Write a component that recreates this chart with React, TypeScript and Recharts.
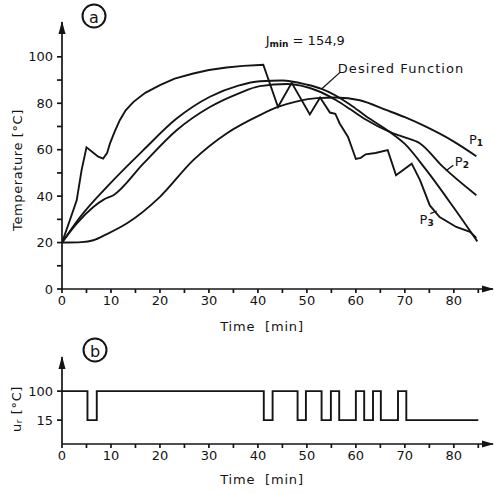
import { LineChart, Line, XAxis, YAxis, ReferenceLine, ReferenceDot } from "recharts";

const FONT = '"DejaVu Sans", sans-serif';
const INK = "#141414";

// panel (a): temperature curves
const desiredTime = [0, 3.7, 9.8, 16.6, 23.4, 30.2, 36, 40.4, 45, 50, 53, 58.8, 62, 66.9, 70, 74.4, 79.9, 84.8];
const desiredTemp = [20, 31, 45.4, 59.8, 73.4, 82.8, 87.6, 89.5, 89.8, 88, 86.2, 79.5, 74.5, 67.7, 62.5, 51.2, 35.3, 20.5];

const p1Time = [0, 4, 6.4, 9, 13.2, 20, 26.8, 33.6, 40.4, 44.1, 48, 52, 56, 60.8, 66.3, 70, 74.4, 80, 84.6];
const p1Temp = [20, 20.2, 21, 23.5, 28.2, 39.7, 55.5, 67, 74.9, 78.4, 80.8, 82.2, 82.5, 81.3, 77, 74, 69.8, 63.5, 57.2];

const p2Time = [0, 3, 6.4, 8.5, 10.5, 16.6, 23.4, 30.2, 36, 40.4, 46, 52, 56, 58.8, 62, 66.9, 69.7, 73.1, 77.8, 84.6];
const p2Temp = [20, 28.2, 35.3, 38.5, 40.4, 54, 68.4, 78.4, 84.2, 87.4, 88.3, 85.5, 81.3, 77.5, 73, 67.7, 65.5, 62.7, 52.6, 40.4];

const p3Time = [0, 1.6, 3, 4, 5, 6.2, 7.4, 8.4, 9.2, 9.8, 10.8, 11.8, 13, 14.6, 17, 20, 23, 26.8, 30, 33.6, 37, 40.4, 41.1, 44.1, 46.9, 50.6, 52.7, 54.7, 55.8, 56.7, 58.4, 60, 61, 62, 64, 66.5, 68.2, 71.4, 73.1, 75.1, 77.1, 80.5, 83.3, 84.6];
const p3Temp = [20, 29.6, 38.2, 51.2, 61, 59, 57, 56.2, 58.5, 62.7, 68, 72.7, 77, 80.6, 84.5, 87.8, 90.6, 92.8, 94.3, 95.4, 96.1, 96.5, 96.6, 78.4, 88.8, 75.2, 82.5, 76, 75.5, 71.3, 65.5, 56, 56.5, 58, 58.6, 59.8, 49, 54, 46.9, 36, 31, 26.7, 24.6, 22];

// panel (b): control signal u_r
const uTime = [0, 5.2, 7.1, 41.2, 43, 48.1, 49.8, 53, 54.9, 56.6, 60, 61.7, 63.5, 65.1, 68.6, 70.3, 85];
const uLevel = [100, 15, 100, 15, 100, 15, 100, 15, 100, 15, 100, 15, 100, 15, 100, 15, 15];

const timeTicks = [0, 5, 10, 15, 20, 25, 30, 35, 40, 45, 50, 55, 60, 65, 70, 75, 80, 85];
const tempTicks = [0, 10, 20, 30, 40, 50, 60, 70, 80, 90, 100];
const uTicks = [15, 100];

const toRows = (ts: number[], vs: number[]) => ts.map((t, i) => ({ t, v: vs[i] }));
const desiredData = toRows(desiredTime, desiredTemp);
const p1Data = toRows(p1Time, p1Temp);
const p2Data = toRows(p2Time, p2Temp);
const p3Data = toRows(p3Time, p3Temp);
const uData = toRows(uTime, uLevel);

const W = 494;
const LEFT = 62;
const tickStyle = { fill: INK, fontSize: 13, fontFamily: FONT };
const axisStyle = { stroke: INK, strokeWidth: 1.7 };
const lineProps = { stroke: INK, strokeWidth: 1.9, dot: false, isAnimationActive: false };
const tenths = (v: number) => (v % 10 === 0 ? String(v) : "");
const twenties = (v: number) => (v % 20 === 0 ? String(v) : "");

const timeLabel = (dy: number) => ({ viewBox }: any) => (
  <text x={viewBox.x + 200} y={viewBox.y + dy} textAnchor="middle" fill={INK} fontSize={13} fontFamily={FONT} letterSpacing={0.8}>
    Time&#160;&#160;[min]
  </text>
);

const sub = (main: string, s: string, rest = "") => ({ viewBox }: any) => (
  <text x={viewBox.x} y={viewBox.y} dominantBaseline="central" fill={INK} fontSize={13} fontFamily={FONT}>
    {main}
    <tspan fontSize={9} dy={4} fontWeight="bold">{s}</tspan>
    {rest && <tspan dy={-4}>{rest}</tspan>}
  </text>
);

const plain = (s: string) => ({ viewBox }: any) => (
  <text x={viewBox.x} y={viewBox.y} dominantBaseline="central" fill={INK} fontSize={13} fontFamily={FONT} letterSpacing={1.1}>
    {s}
  </text>
);

function Arrow({ x, y, dir }: { x: number; y: number; dir: "up" | "right" }) {
  const pts = dir === "up" ? `${x},${y} ${x - 3.5},${y + 13} ${x + 3.5},${y + 13}` : `${x},${y} ${x - 12},${y - 3.5} ${x - 12},${y + 3.5}`;
  return <polygon points={pts} fill={INK} />;
}

function Badge({ x, y, ch }: { x: number; y: number; ch: string }) {
  return (
    <g>
      <circle cx={x} cy={y} r={11.5} fill="none" stroke={INK} strokeWidth={2} />
      <text x={x} y={y + 1} textAnchor="middle" dominantBaseline="central" fill={INK} fontSize={16} fontFamily={FONT}>
        {ch}
      </text>
    </g>
  );
}

export default function App() {
  return (
    <div style={{ position: "absolute", left: 0, top: 0, width: W, height: 493, background: "#fff" }}>
      <div style={{ position: "absolute", left: 0, top: 0 }}>
        <LineChart width={W} height={340} margin={{ top: 22, right: 1, bottom: 0, left: 0 }}>
          <XAxis type="number" dataKey="t" domain={[0, 88]} ticks={timeTicks} interval={0} tickFormatter={tenths}
            tickSize={4} tickMargin={3} height={51} axisLine={axisStyle} tickLine={axisStyle} tick={tickStyle}
            allowDataOverflow label={{ content: timeLabel(42) }} />
          <YAxis type="number" dataKey="v" domain={[0, 115]} ticks={tempTicks} interval={0} tickFormatter={twenties}
            tickSize={5} tickMargin={4} width={LEFT} axisLine={axisStyle} tickLine={axisStyle} tick={tickStyle}
            allowDataOverflow
            label={{
              content: ({ viewBox }: any) => (
                <text x={17} y={viewBox.y + 148} transform={`rotate(-90 17 ${viewBox.y + 148})`} textAnchor="middle"
                  dominantBaseline="central" fill={INK} fontSize={13} fontFamily={FONT} letterSpacing={0.6}>
                  Temperature [°C]
                </text>
              ),
            }} />
          <Line data={desiredData} dataKey="v" type="monotone" {...lineProps} />
          <Line data={p1Data} dataKey="v" type="monotone" {...lineProps} />
          <Line data={p2Data} dataKey="v" type="monotone" {...lineProps} />
          <Line data={p3Data} dataKey="v" type="linear" {...lineProps} />
          <ReferenceLine segment={[{ x: 56.7, y: 93.2 }, { x: 53, y: 86.1 }]} stroke={INK} strokeWidth={1.3} />
          <ReferenceLine segment={[{ x: 78.4, y: 50.9 }, { x: 79.9, y: 53.3 }]} stroke={INK} strokeWidth={1.3} />
          <ReferenceLine segment={[{ x: 75.2, y: 32.5 }, { x: 76.5, y: 33.6 }]} stroke={INK} strokeWidth={1.3} />
          <ReferenceDot x={41.6} y={107.2} r={0} stroke="none" label={{ content: sub("J", "min", " = 154,9") }} />
          <ReferenceDot x={56.3} y={95} r={0} stroke="none" label={{ content: plain("Desired  Function") }} />
          <ReferenceDot x={83.1} y={64.5} r={0} stroke="none" label={{ content: sub("P", "1") }} />
          <ReferenceDot x={80.2} y={55} r={0} stroke="none" label={{ content: sub("P", "2") }} />
          <ReferenceDot x={73} y={30} r={0} stroke="none" label={{ content: sub("P", "3") }} />
        </LineChart>
      </div>
      <div style={{ position: "absolute", left: 0, top: 340 }}>
        <LineChart width={W} height={153} margin={{ top: 17, right: 1, bottom: 0, left: 0 }}>
          <XAxis type="number" dataKey="t" domain={[0, 88]} ticks={timeTicks} interval={0} tickFormatter={tenths}
            tickSize={4} tickMargin={3} height={49} axisLine={axisStyle} tickLine={axisStyle} tick={tickStyle}
            allowDataOverflow label={{ content: timeLabel(40) }} />
          <YAxis type="number" dataKey="v" domain={[-55, 200]} ticks={uTicks} interval={0}
            tickSize={5} tickMargin={4} width={LEFT} axisLine={axisStyle} tickLine={axisStyle} tick={tickStyle}
            allowDataOverflow
            label={{
              content: ({ viewBox }: any) => (
                <text x={16} y={viewBox.y + 52} transform={`rotate(-90 16 ${viewBox.y + 52})`} textAnchor="middle"
                  dominantBaseline="central" fill={INK} fontSize={13} fontFamily={FONT} letterSpacing={0.6}>
                  u<tspan fontSize={9} dy={3}>r</tspan><tspan dy={-3}> [°C]</tspan>
                </text>
              ),
            }} />
          <Line data={uData} dataKey="v" type="stepAfter" {...lineProps} />
        </LineChart>
      </div>
      <svg width={W} height={493} style={{ position: "absolute", left: 0, top: 0, pointerEvents: "none" }}>
        <Arrow x={LEFT} y={21} dir="up" />
        <Arrow x={494} y={289} dir="right" />
        <Arrow x={LEFT} y={356} dir="up" />
        <Arrow x={494} y={444} dir="right" />
        <Badge x={94} y={16} ch="a" />
        <Badge x={95} y={350} ch="b" />
      </svg>
    </div>
  );
}
